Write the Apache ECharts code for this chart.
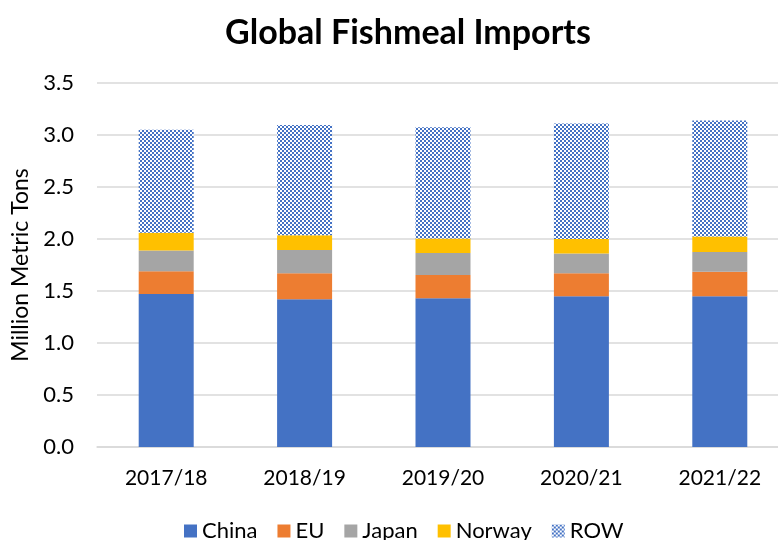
<!DOCTYPE html>
<html>
<head>
<meta charset="utf-8">
<script src="https://cdn.jsdelivr.net/npm/echarts@6/dist/echarts.min.js"></script>
<style>
  html, body { margin: 0; padding: 0; background: #fff; }
  #chart { width: 778px; height: 540px; }
</style>
</head>
<body>
<div id="chart"></div>
<script>
// Fishmeal imports by importer, million metric tons
const categories = ['2017/18', '2018/19', '2019/20', '2020/21', '2021/22'];
const china  = [1.47, 1.42, 1.43, 1.45, 1.45];
const eu     = [0.22, 0.25, 0.225, 0.22, 0.235];
const japan  = [0.20, 0.225, 0.21, 0.19, 0.19];
const norway = [0.17, 0.14, 0.14, 0.14, 0.15];
const row    = [0.99, 1.06, 1.07, 1.11, 1.115];
const yTicks = ['0.0', '0.5', '1.0', '1.5', '2.0', '2.5', '3.0', '3.5'];

const FONT = 'Lato, "Open Sans", sans-serif';

// Small checker tile used to fill the "rest of world" segment
function checkerTile(color) {
  const c = document.createElement('canvas');
  c.width = 4; c.height = 4;
  const g = c.getContext('2d');
  g.fillStyle = '#ffffff';
  g.fillRect(0, 0, 4, 4);
  g.fillStyle = color;
  g.fillRect(0, 0, 2, 2);
  g.fillRect(2, 2, 2, 2);
  return c;
}

const chart = echarts.init(document.getElementById('chart'), null, { renderer: 'canvas' });

function barSeries(name, data, color) {
  return {
    name: name,
    type: 'bar',
    stack: 'total',
    barWidth: 55,
    data: data,
    itemStyle: { color: color },
    emphasis: { disabled: true }
  };
}

chart.setOption({
  animation: false,
  textStyle: { fontFamily: FONT },
  graphic: [{
    type: 'text',
    x: 408,
    y: 16,
    style: {
      text: 'Global Fishmeal Imports',
      font: 'bold 34px ' + FONT,
      fill: '#000',
      align: 'center',
      verticalAlign: 'top'
    }
  }],
  // plot area runs past the right edge of the canvas
  grid: {
    left: 97, top: 83, right: -11, bottom: 93,
    containLabel: false,
    outerBoundsMode: 'none'
  },
  legend: {
    left: 179,
    top: 515,
    itemWidth: 13,
    itemHeight: 13,
    itemGap: 20,
    icon: 'rect',
    textStyle: { fontSize: 22, color: '#000', fontFamily: FONT },
    data: ['China', 'EU', 'Japan', 'Norway', 'ROW']
  },
  xAxis: {
    type: 'category',
    data: categories,
    axisTick: { show: false },
    axisLine: { lineStyle: { color: '#D9D9D9', width: 1.5 } },
    axisLabel: { fontSize: 21, color: '#000', margin: 21, fontFamily: FONT }
  },
  yAxis: {
    type: 'value',
    min: 0,
    max: 3.5,
    interval: 0.5,
    name: 'Million Metric Tons',
    nameLocation: 'middle',
    nameGap: 65,
    nameTextStyle: { fontSize: 23, color: '#000', fontFamily: FONT },
    axisLine: { show: false },
    axisTick: { show: false },
    axisLabel: {
      fontSize: 22, color: '#000', margin: 23, fontFamily: FONT,
      formatter: function (v) { return yTicks[Math.round(v / 0.5)]; }
    },
    splitLine: { lineStyle: { color: '#D9D9D9', width: 1.5 } }
  },
  series: [
    barSeries('China', china, '#4472C4'),
    barSeries('EU', eu, '#ED7D31'),
    barSeries('Japan', japan, '#A5A5A5'),
    barSeries('Norway', norway, '#FFC000'),
    barSeries('ROW', row, { image: checkerTile('#4472C4'), repeat: 'repeat' })
  ]
});
</script>
</body>
</html>
